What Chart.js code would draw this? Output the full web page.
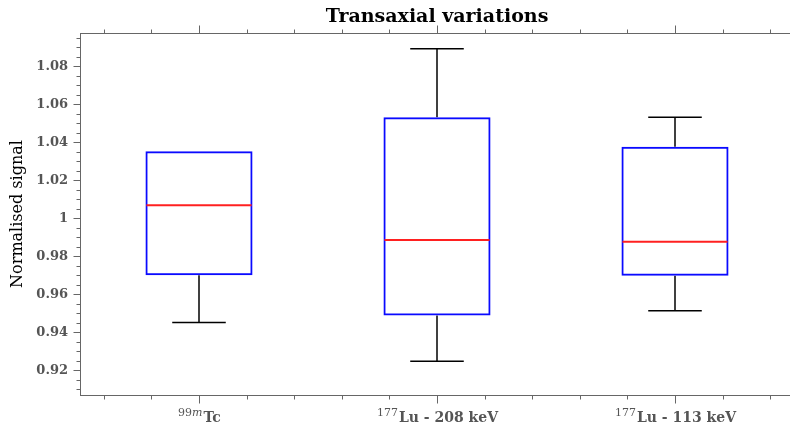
<!DOCTYPE html>
<html>
<head>
<meta charset="utf-8">
<script src="https://cdn.jsdelivr.net/npm/chart.js@4"></script>
<style>
  html, body { margin: 0; padding: 0; background: #fff; overflow: hidden; }
  #wrap { width: 790px; height: 429px; overflow: hidden; }
</style>
</head>
<body>
<div id="wrap"><canvas id="chart" width="800" height="429"></canvas></div>
<script>
// box plot values, one entry per category
const positions = [1, 2, 3];
const labelSup = ["99m", "177", "177"];
const labelMain = ["Tc", "Lu - 208 keV", "Lu - 113 keV"];
const q1 = [0.970, 0.9488, 0.9698];
const q3 = [1.0353, 1.0532, 1.0377];
const medians = [1.0068, 0.9886, 0.9877];
const whiskerLow = [0.9451, 0.9247, 0.9513];
const whiskerHigh = [1.0353, 1.0892, 1.0532];

const yMin = 0.907;
const yMax = 1.0975;
const yMajorStep = 0.02;
const yMinorStep = 0.005;
const xMinorStep = 0.2;

const BOX_HALF = 0.225;
const CAP_HALF = 0.1125;
const AXIS_COLOR = "#666";
const TEXT_COLOR = "#555";

function line(ctx, x1, y1, x2, y2) {
  ctx.beginPath();
  ctx.moveTo(x1, y1);
  ctx.lineTo(x2, y2);
  ctx.stroke();
}

const boxPlugin = {
  id: "boxParts",
  beforeDatasetsDraw(chart) {
    const { ctx, scales: { x, y } } = chart;
    ctx.save();
    ctx.strokeStyle = "#000";
    ctx.lineWidth = 1.5;
    positions.forEach((p, i) => {
      const px = x.getPixelForValue(p);
      const c1 = x.getPixelForValue(p - CAP_HALF);
      const c2 = x.getPixelForValue(p + CAP_HALF);
      // a whisker that ends on the box edge has nothing to show
      if (whiskerHigh[i] > q3[i]) {
        const hy = y.getPixelForValue(whiskerHigh[i]);
        line(ctx, px, y.getPixelForValue(q3[i]), px, hy);
        line(ctx, c1, hy, c2, hy);
      }
      if (whiskerLow[i] < q1[i]) {
        const ly = y.getPixelForValue(whiskerLow[i]);
        line(ctx, px, y.getPixelForValue(q1[i]), px, ly);
        line(ctx, c1, ly, c2, ly);
      }
    });
    ctx.restore();
  },
  afterDatasetsDraw(chart) {
    const { ctx, scales: { x, y } } = chart;
    ctx.save();
    ctx.strokeStyle = "#ff2020";
    ctx.lineWidth = 2;
    positions.forEach((p, i) => {
      const my = y.getPixelForValue(medians[i]);
      line(ctx, x.getPixelForValue(p - BOX_HALF) + 1, my, x.getPixelForValue(p + BOX_HALF) - 1, my);
    });
    ctx.restore();
  },
  afterDraw(chart) {
    const { ctx, chartArea: a, scales: { x, y } } = chart;
    ctx.save();
    ctx.strokeStyle = AXIS_COLOR;
    ctx.lineWidth = 1;
    const L = Math.round(a.left) + 0.5;
    const T = Math.round(a.top) + 0.5;
    const B = Math.round(a.bottom) + 0.5;
    line(ctx, L, a.top, L, a.bottom + 1);
    line(ctx, a.left, T, a.right, T);
    line(ctx, a.left, B, a.right, B);

    // x ticks on top and bottom
    for (let v = 0.5 + xMinorStep / 2; v < 3.5; v += xMinorStep) {
      const major = Math.abs(v - Math.round(v)) < 1e-6;
      const len = major ? 8 : 4;
      const px = Math.round(x.getPixelForValue(v)) + 0.5;
      line(ctx, px, T, px, T - len);
      line(ctx, px, B, px, B + len);
    }
    // y ticks on the left
    const start = Math.ceil(yMin / yMinorStep) * yMinorStep;
    for (let v = start; v <= yMax; v += yMinorStep) {
      const r = Math.round(v / yMajorStep) * yMajorStep;
      const major = Math.abs(v - r) < 1e-6;
      const len = major ? 7 : 4;
      const py = Math.round(y.getPixelForValue(v)) + 0.5;
      line(ctx, L, py, L - len, py);
    }

    // category labels with superscripts
    ctx.fillStyle = TEXT_COLOR;
    ctx.textBaseline = "alphabetic";
    ctx.textAlign = "left";
    positions.forEach((p, i) => {
      const supFontR = "11px 'DejaVu Serif'";
      const supFontI = "italic 11px 'DejaVu Serif'";
      const mainFont = "bold 14px 'DejaVu Serif'";
      let supW = 0;
      for (const ch of labelSup[i]) {
        ctx.font = /[a-z]/.test(ch) ? supFontI : supFontR;
        supW += ctx.measureText(ch).width;
      }
      ctx.font = mainFont;
      const mainW = ctx.measureText(labelMain[i]).width;
      let cx = x.getPixelForValue(p) - (supW + mainW) / 2;
      for (const ch of labelSup[i]) {
        ctx.font = /[a-z]/.test(ch) ? supFontI : supFontR;
        ctx.fillText(ch, cx, 416);
        cx += ctx.measureText(ch).width;
      }
      ctx.font = mainFont;
      ctx.fillText(labelMain[i], cx + 1, 422);
    });

    // title
    ctx.fillStyle = "#000";
    ctx.textAlign = "center";
    ctx.font = "bold 19px 'DejaVu Serif'";
    ctx.fillText("Transaxial variations", (a.left + a.right) / 2, 22);

    // y axis title
    ctx.save();
    ctx.translate(18, (a.top + a.bottom) / 2);
    ctx.rotate(-Math.PI / 2);
    ctx.textBaseline = "middle";
    ctx.font = "16px 'DejaVu Serif'";
    ctx.fillText("Normalised signal", 0, 0);
    ctx.restore();

    ctx.restore();
  },
};

const ctx = document.getElementById("chart").getContext("2d");

new Chart(ctx, {
  type: "bar",
  data: {
    datasets: [
      {
        data: positions.map((p, i) => ({ x: p, y: [q1[i], q3[i]] })),
        backgroundColor: "rgba(0,0,0,0)",
        borderColor: "#0a0aff",
        borderWidth: 2,
        borderSkipped: false,
        barPercentage: BOX_HALF * 2,
        categoryPercentage: 1,
      },
    ],
  },
  options: {
    responsive: false,
    animation: false,
    layout: { padding: { top: 33, right: 6, left: 0, bottom: 0 } },
    plugins: {
      legend: { display: false },
      tooltip: { enabled: false },
      title: { display: false },
    },
    scales: {
      x: {
        type: "linear",
        offset: false,
        min: 0.5,
        max: 3.5,
        grid: { display: false, drawTicks: false, offset: false },
        border: { display: false },
        ticks: { display: false, stepSize: 1, includeBounds: false },
        afterFit: (s) => { s.height = 34; },
      },
      y: {
        min: yMin,
        max: yMax,
        grid: { display: false, drawTicks: false },
        border: { display: false },
        ticks: {
          stepSize: yMajorStep,
          includeBounds: false,
          padding: 12,
          color: TEXT_COLOR,
          font: { family: "DejaVu Serif", weight: "bold", size: 13 },
          callback: (v) => (Math.abs(v - 1) < 1e-9 ? "1" : v.toFixed(2)),
        },
        afterFit: (s) => { s.width = 80; },
      },
    },
  },
  plugins: [boxPlugin],
});
</script>
</body>
</html>
